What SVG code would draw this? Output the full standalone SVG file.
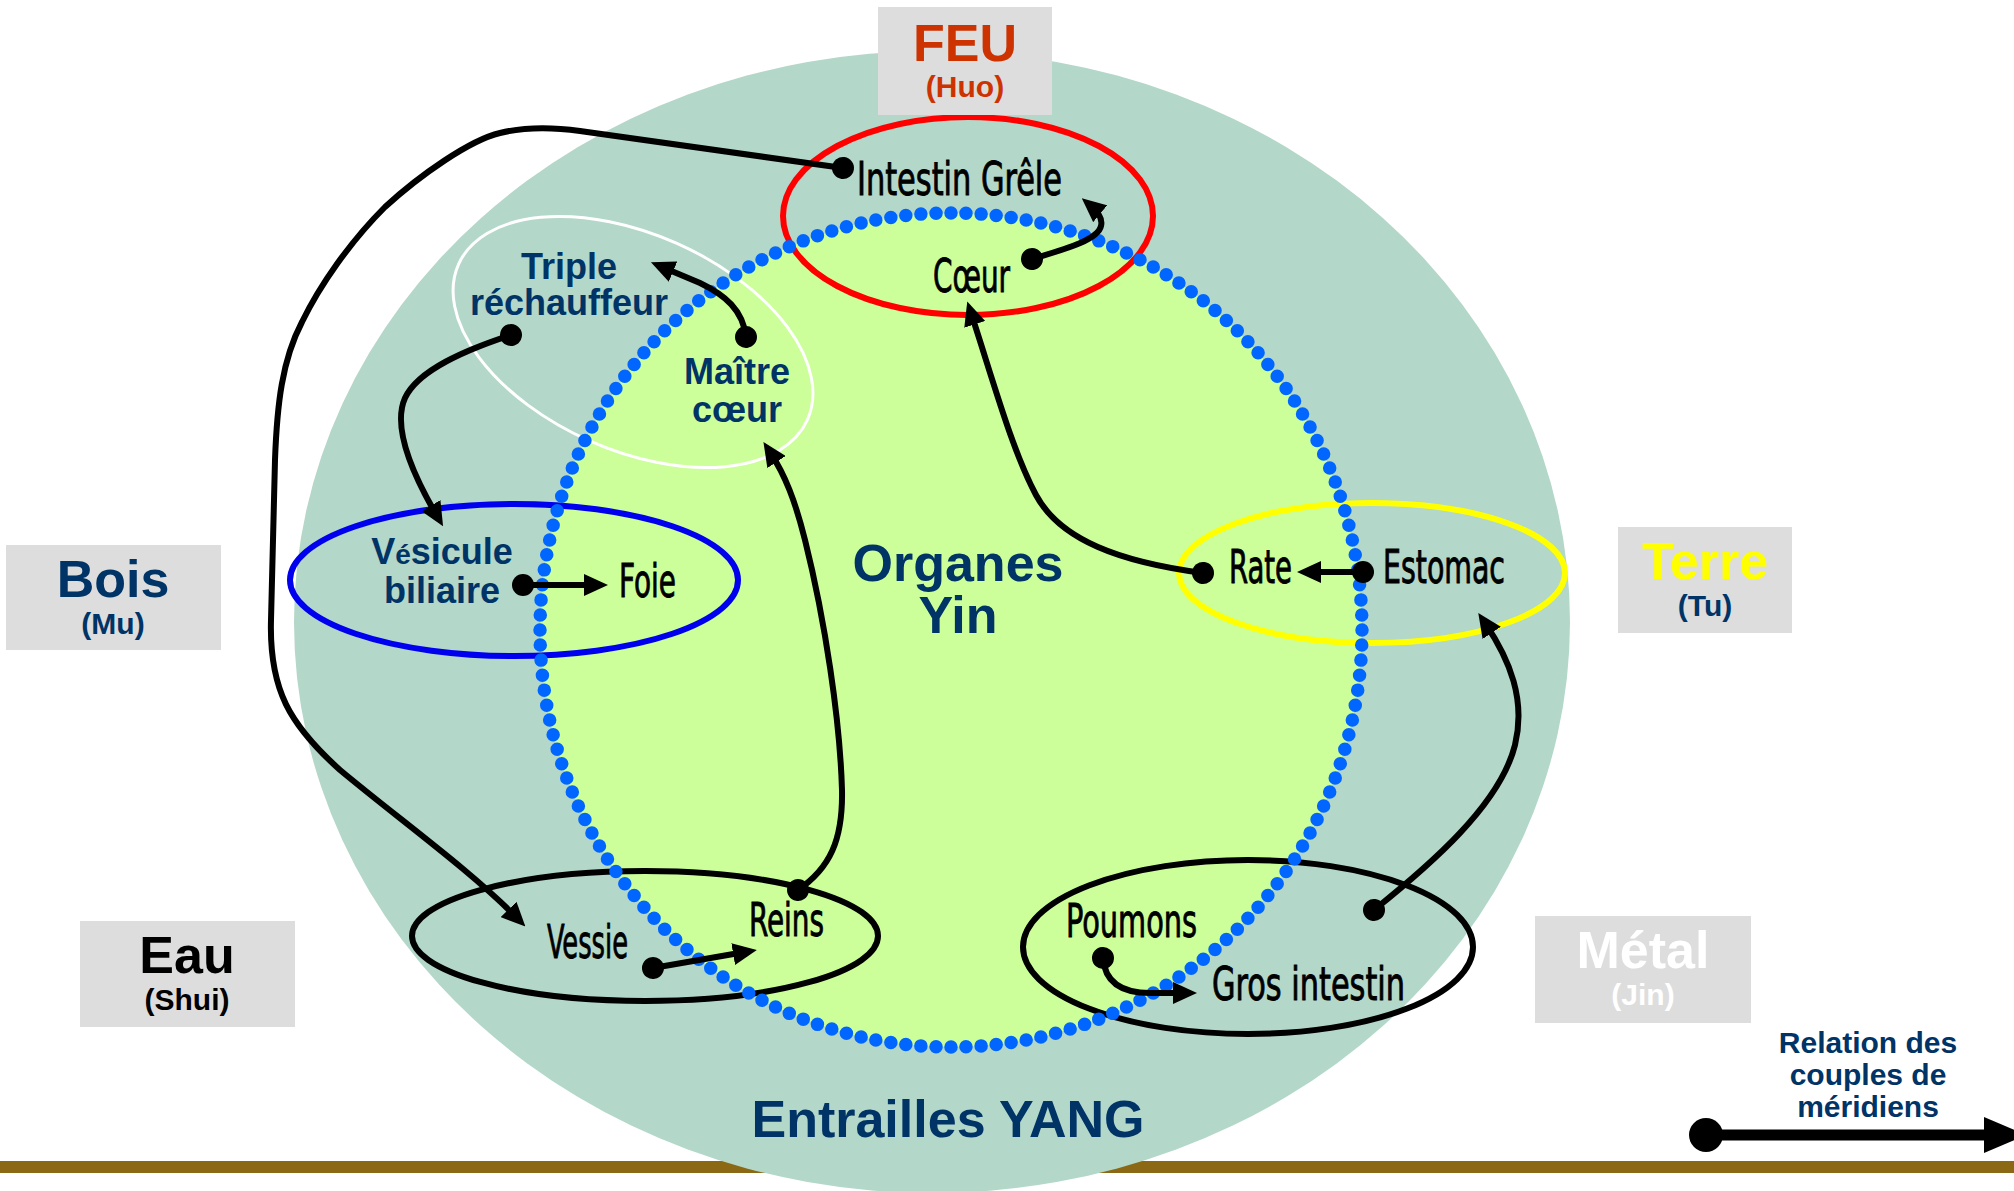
<svg xmlns="http://www.w3.org/2000/svg" width="2014" height="1191" viewBox="0 0 2014 1191">
<style>
.bg{fill:#FFFFFF}
.box{fill:#DDDDDD}
.elem{font-family:'Liberation Sans',Arial,sans-serif;font-weight:bold;text-anchor:middle}
.big{font-size:52px}
.small{font-size:30px}
.navy{fill:#003366}
.org{font-family:'Liberation Sans Narrow','DejaVu Sans Condensed','Liberation Sans',sans-serif;font-size:46px;fill:#000000;stroke:#000000;stroke-width:0.9px}
.lab{font-family:'Liberation Sans',Arial,sans-serif;font-weight:bold;font-size:36px;fill:#003366;text-anchor:middle}
.ring{fill:none;stroke-width:6}
.conn{fill:none;stroke:#000000;stroke-width:6;marker-start:url(#dot);marker-end:url(#arrow)}
</style>
<defs>
<marker id="arrow" markerUnits="userSpaceOnUse" viewBox="0 0 24 22" markerWidth="24" markerHeight="22" refX="12" refY="11" orient="auto">
<path d="M0,0 L24,11 L0,22 z" fill="#000000"/>
</marker>
<marker id="dot" markerUnits="userSpaceOnUse" viewBox="0 0 24 24" markerWidth="24" markerHeight="24" refX="12" refY="12" orient="auto">
<circle cx="12" cy="12" r="11" fill="#000000"/>
</marker>
</defs>
<rect class="bg" x="0" y="0" width="2014" height="1191"/>
<g id="background">
<rect x="0" y="1161" width="2014" height="12" fill="#8B6914"/>
<ellipse id="yang-disc" cx="932" cy="622" rx="638" ry="571" fill="#B3D7C8"/>
<ellipse id="yin-disc" cx="951" cy="630" rx="411" ry="417" fill="#CCFF99"/>
</g>
<g id="groups">
<ellipse id="ring-feu" class="ring" cx="968" cy="216" rx="185" ry="99" stroke="#FF0000"/>
<ellipse id="ring-mc" cx="633" cy="342" rx="191" ry="108" transform="rotate(24 633 342)" fill="none" stroke="#FFFFFF" stroke-width="3"/>
<ellipse id="ring-bois" class="ring" cx="514" cy="580" rx="224" ry="76" stroke="#0000EE" stroke-width="7"/>
<ellipse id="ring-terre" class="ring" cx="1372" cy="573" rx="193" ry="70" stroke="#FFFF00"/>
<ellipse id="ring-eau" class="ring" cx="645" cy="936" rx="233" ry="65" stroke="#000000"/>
<ellipse id="ring-metal" class="ring" cx="1248" cy="947" rx="225" ry="87" stroke="#000000"/>
</g>
<ellipse id="yin-border" cx="951" cy="630" rx="411" ry="417" fill="none" stroke="#0066FF" stroke-width="13.5" stroke-linecap="round" stroke-dasharray="0 1" pathLength="172"/>
<g id="node-feu">
<rect class="box" x="878" y="7" width="174" height="108"/>
<text class="elem big" x="965" y="61" fill="#CC3300">FEU</text>
<text class="elem small" x="965" y="97" fill="#CC3300">(Huo)</text>
</g>
<g id="node-bois">
<rect class="box" x="6" y="545" width="215" height="105"/>
<text class="elem big navy" x="113" y="597">Bois</text>
<text class="elem small navy" x="113" y="634">(Mu)</text>
</g>
<g id="node-terre">
<rect class="box" x="1618" y="527" width="174" height="106"/>
<text class="elem big" x="1705" y="579" fill="#FFFF00">Terre</text>
<text class="elem small navy" x="1705" y="616">(Tu)</text>
</g>
<g id="node-eau">
<rect class="box" x="80" y="921" width="215" height="106"/>
<text class="elem big" x="187" y="973" fill="#000000">Eau</text>
<text class="elem small" x="187" y="1010" fill="#000000">(Shui)</text>
</g>
<g id="node-metal">
<rect class="box" x="1535" y="916" width="216" height="107"/>
<text class="elem big" x="1643" y="968" fill="#FFFFFF">Métal</text>
<text class="elem small" x="1643" y="1005" fill="#FFFFFF">(Jin)</text>
</g>
<g id="node-organes-yin">
<text class="elem big navy" x="958" y="581">Organes</text>
<text class="elem big navy" x="958" y="633">Yin</text>
</g>
<g id="node-entrailles-yang">
<text class="elem big navy" x="948" y="1137">Entrailles YANG</text>
</g>
<g id="node-intestin-grele"><text class="org" x="857" y="195" textLength="205" lengthAdjust="spacingAndGlyphs">Intestin Grêle</text></g>
<g id="node-coeur"><text class="org" x="933" y="292" textLength="77" lengthAdjust="spacingAndGlyphs">Cœur</text></g>
<g id="node-triple"><text class="lab" x="569" y="279">Triple</text><text class="lab" x="569" y="315">réchauffeur</text></g>
<g id="node-maitre-coeur"><text class="lab" x="737" y="384">Maître</text><text class="lab" x="737" y="422">cœur</text></g>
<g id="node-vesicule"><text class="lab" x="442" y="564">V<tspan font-size="28px">é</tspan>sicule</text><text class="lab" x="442" y="603">biliaire</text></g>
<g id="node-foie"><text class="org" x="619" y="597" textLength="57" lengthAdjust="spacingAndGlyphs">Foie</text></g>
<g id="node-rate"><text class="org" x="1229" y="583" textLength="63" lengthAdjust="spacingAndGlyphs">Rate</text></g>
<g id="node-estomac"><text class="org" x="1383" y="583" textLength="122" lengthAdjust="spacingAndGlyphs">Estomac</text></g>
<g id="node-vessie"><text class="org" x="547" y="958" textLength="81" lengthAdjust="spacingAndGlyphs">Vessie</text></g>
<g id="node-reins"><text class="org" x="749" y="936" textLength="75" lengthAdjust="spacingAndGlyphs">Reins</text></g>
<g id="node-poumons"><text class="org" x="1066" y="937" textLength="131" lengthAdjust="spacingAndGlyphs">Poumons</text></g>
<g id="node-gros-intestin"><text class="org" x="1212" y="1000" textLength="193" lengthAdjust="spacingAndGlyphs">Gros intestin</text></g>
<g id="connectors">
<path class="conn" d="M843 168 L580 131 C545 126 520 128 500 133 C470 140 420 175 385 207 C350 242 320 285 302 322 C282 360 277 405 275 460 L271 620 C269 690 290 725 340 770 C400 820 470 870 517 918"/>
<path class="conn" d="M511 335 C465 350 418 370 405 398 C393 425 410 470 437 516"/>
<path class="conn" d="M746 337 C743 310 725 295 700 283 L662 267"/>
<path class="conn" d="M1032 259 C1065 249 1098 240 1101 226 C1103 218 1097 211 1091 206"/>
<path class="conn" d="M1203 573 C1120 562 1060 540 1036 495 C1012 450 993 380 971 313"/>
<path class="conn" d="M1363 572 L1309 572"/>
<path class="conn" d="M1374 910 C1430 865 1500 805 1515 745 C1526 700 1510 660 1485 623"/>
<path class="conn" d="M1103 958 C1105 985 1125 993 1150 993 L1185 993"/>
<path class="conn" d="M653 968 L745 952"/>
<path class="conn" d="M798 890 C830 868 843 840 842 790 C840 720 825 620 805 540 C795 500 785 475 770 452"/>
<path class="conn" d="M523 585 L596 585"/>
</g>
<g id="legend">
<text class="elem navy" font-size="30px" x="1868" y="1053">Relation des</text>
<text class="elem navy" font-size="30px" x="1868" y="1085">couples de</text>
<text class="elem navy" font-size="30px" x="1868" y="1117">méridiens</text>
<line x1="1706" y1="1135" x2="1990" y2="1135" stroke="#000000" stroke-width="11"/>
<circle cx="1706" cy="1135" r="17" fill="#000000"/>
<polygon points="1984,1117 2026,1135 1984,1153" fill="#000000"/>
</g>
</svg>
